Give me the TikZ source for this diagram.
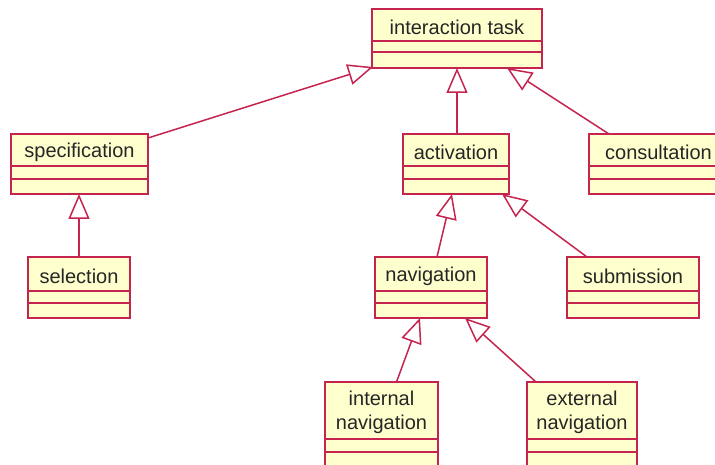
\documentclass[tikz,border=0pt]{standalone}
\usepackage{fontspec}
\setmainfont{Liberation Sans}
\usetikzlibrary{arrows.meta,calc}
\definecolor{umlborder}{RGB}{196,36,78}
\definecolor{umlfill}{RGB}{255,255,206}
\tikzset{
  umlbox/.style={draw=umlborder, fill=umlfill, line width=2pt, inner sep=0pt, outer sep=0pt},
  compline/.style={draw=umlborder, line width=1.6pt},
  lbl/.style={font=\fontsize{20}{24}\selectfont, align=center, inner sep=0pt, text=black!85},
  gen/.style={draw=umlborder, line width=1.5pt, -{Triangle[open, length=25pt, width=21pt, line width=1.5pt]}}
}
\newcommand\umlclass[8]{%
  \node[umlbox, minimum width={#4-#2}, minimum height={#5-#3}] (#1) at ({(#2+#4)/2},{(#3+#5)/2}) {};
  \draw[compline] ($(#1.north west)+(0,#6)$) -- ($(#1.north east)+(0,#6)$);
  \draw[compline] ($(#1.north west)+(0,#6+#7)$) -- ($(#1.north east)+(0,#6+#7)$);
  \node[lbl] (#1-label) at ($(#1.north)+(0,#6/2+2)$) {#8};
}
\begin{document}
\begin{tikzpicture}[x=1pt,y=-1pt]
\useasboundingbox (0,0) rectangle (715,465);
\umlclass{task}{372}{9}{542}{68}{32}{11}{interaction task}
\umlclass{spec}{11}{134}{148}{194}{32}{13}{specification}
\umlclass{act}{403}{134}{509}{194}{32}{13}{activation}
\umlclass{cons}{589}{134}{728}{194}{32}{13}{consultation}
\umlclass{sel}{28}{257}{130}{318}{34}{12}{selection}
\umlclass{nav}{375}{257}{487}{318}{34}{12}{navigation}
\umlclass{sub}{567}{257}{699}{318}{34}{12}{submission}
\umlclass{int}{325}{382}{438}{475}{57}{13}{internal\\navigation}
\umlclass{ext}{527}{382}{637}{475}{57}{13}{external\\navigation}
% generalizations
\draw[gen] ($(spec.north east)+(0,4)$) -- ($(task.south west)+(1,-1)$);
\draw[gen] (act.north -| task.south) -- (task.south);
\draw[gen] ($(cons.north west)+(20,0)$) -- ($(task.south east)+(-35,0)$);
\draw[gen] (sel.north) -- (sel.north |- spec.south);
\draw[gen] ($(nav.north)+(6,0)$) -- ($(act.south)+(-4,0)$);
\draw[gen] ($(sub.north)+(-46,0)$) -- ($(act.south east)+(-7,0)$);
\draw[gen] ($(int.north)+(15,0)$) -- ($(nav.south west)+(45,0)$);
\draw[gen] ($(ext.north west)+(9,0)$) -- ($(nav.south west)+(90,0)$);
\end{tikzpicture}
\end{document}
